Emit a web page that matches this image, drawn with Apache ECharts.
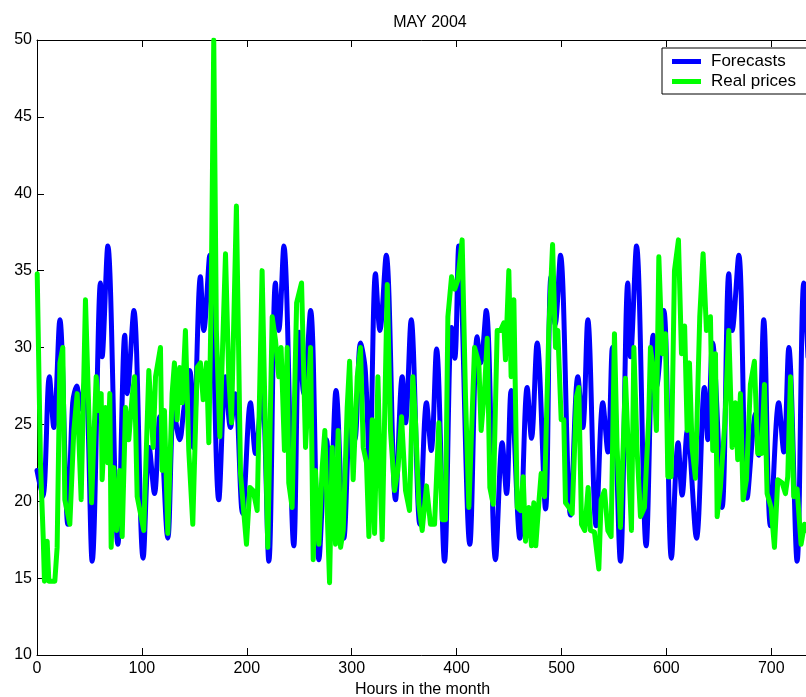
<!DOCTYPE html>
<html>
<head>
<meta charset="utf-8">
<script src="https://cdn.jsdelivr.net/npm/echarts@6/dist/echarts.min.js"></script>
<style>
html,body{margin:0;padding:0;background:#fff;}
#chart{width:806px;height:697px;}
</style>
</head>
<body>
<div id="chart"></div>
<script>
var chartTitle = "MAY 2004";
var xAxisTitle = "Hours in the month";
var seriesNames = ["Forecasts", "Real prices"];
var xTicks = [0, 100, 200, 300, 400, 500, 600, 700];
var yTicks = [10, 15, 20, 25, 30, 35, 40, 45, 50];

var forecastHours = [0,5.5,11.8,16,21.8,29.4,34,38,41,46,52.6,60.5,62.1,67.5,77.1,83.7,86,92.3,101.2,107,112,117,124.7,130.4,136,140,145.7,149,155.8,159,164.7,173.3,179.7,184.4,189,196,203.5,208.3,214.5,221,227.3,230.5,235.3,244.8,250,254.4,260.8,268.7,276,280,285,292.5,299,303,308.4,313,317,322.7,326.9,332.9,341.8,348.2,351.3,356.7,365,371.3,375.8,380.9,388.5,395.2,398.3,402.1,412.6,419.6,423,428.2,437.1,443.5,447.6,452,460.3,467.3,471.4,476.8,484.8,490,494,499,508.6,515.6,520.3,525.1,533,539.4,544.2,548.5,556.2,563.2,565.8,571.5,580.7,587.4,590.5,597.5,604.8,611.2,615,620,628.7,636.3,639.5,644,653.1,659.5,662.7,669,677,685,688,692.8,699.2,707.1,711.9,716.7,724.6,731,735];
var forecastPrices = [22.0,20.3,28.1,24.8,31.8,18.5,26.4,27.5,26,28.0,16.1,34.2,29.4,36.6,17.2,30.8,27.0,32.4,16.3,23.5,20.5,25.5,17.6,25.9,24.0,26,28.5,23.5,34.6,31.1,36.0,20.1,28.1,24.8,27,19.2,26.4,23.1,27.2,16.1,34.2,31.1,36.6,17.1,31,27.0,32.4,16.2,24,21,27.2,17.6,26,24,30.3,28.5,22,34.8,31.1,36.0,20.1,28.1,25.1,31.8,18.5,26.4,23.3,29.9,16.1,31.3,29.3,36.6,17.2,30.7,29,32.4,16.2,23.8,20.5,27.2,17.6,27.4,24.1,30.3,19.5,34.6,31.5,36.0,19.1,28.1,24.8,31.8,18.4,26.4,23.2,30,16.1,34.2,29.4,36.6,17.1,30.8,27.4,32.4,16.3,23.8,20.4,24.6,17.6,27.4,24.0,30.3,19.6,34.8,31.1,36.0,20.2,25.7,23,31.8,18.4,26.4,23.2,30.0,16.1,34.2,29.4];

var realHours = [0.2,3.3,5.9,7.1,9.7,11.3,17.0,19.2,21.8,24.6,26.5,31.3,35.1,38.3,42.1,46.2,52,56.4,59,61.2,62.1,65.3,67.5,69.4,70.7,73.2,75.8,78.9,81.2,84.4,87.5,90.7,93,95.5,101.8,106.6,110.7,113,117.7,119.3,121.5,124.7,128.8,131,133.6,136.1,138.4,141.5,144.7,148.5,152.7,155.8,158.4,161.6,163.8,166,168.5,171,174.3,179.7,182.8,185.4,190.1,194,199.7,202.9,206,209.9,214.6,220,224.2,227.3,230.5,232.7,235.9,238.5,240,243.2,247.5,252.2,256,260.8,263.3,265.5,268.7,271.9,274.4,276.7,278.9,281.4,284.6,287.1,289.4,291.9,295.7,298,301.4,305.3,308.4,311,314.1,316.4,319.6,321.8,325,327.5,329.1,333.9,337,340.8,344,347.5,351.3,355.1,358.3,360.9,364,367.2,371.3,375.1,379,383.1,386.3,389.4,391.7,395.2,398.3,401.2,405.3,408.5,411.7,417.1,421.2,423.4,426.6,429.2,431.7,434.9,438.7,441.9,445,446.6,449.8,452,454.6,457.8,460.9,463.5,465.7,468.9,471.4,473.6,475.5,478.4,480.6,483.8,487.9,491.5,494.3,496.5,499.7,502.2,503.8,507,510.2,514.3,516.5,519.1,522.2,525.4,527.6,531.4,535.6,537.8,541,544.2,547.3,550.5,553,556.2,561,564.2,566.7,569,572.1,575.3,579.1,583.2,584.8,588,590.5,592.8,596,599.1,601.4,604.5,607.7,611.5,614.4,617.4,619.8,622,624.5,627.7,631.8,635,638.2,642,644.2,646.8,648.4,651.5,655.7,659.5,662.7,665.8,668,670.6,673.1,676.3,680.1,683.9,687.1,690.6,693.5,696,699.8,703,706.2,710.3,713.5,715.7,718.3,721.4,724.6,728.4,731.6,735];
var realPrices = [34.8,22.5,17.7,14.8,17.4,14.8,14.8,17.0,29.0,30.0,20.1,18.5,24.6,27.0,20.1,33.1,19.9,28.1,25.9,27.0,21.4,26.1,22.5,27.0,17.0,22.2,18.1,22.0,17.7,26.1,24.0,26.8,28.1,20.3,18.1,28.5,23.5,28.1,30.0,22.0,25.9,17.9,27.0,29.0,25.3,28.7,26.4,31.1,23.3,18.5,28.7,29.0,26.6,29.0,23.8,32.9,50,31.1,24.2,36.1,28.1,25.1,39.2,21.8,17.2,20.9,20.7,19.4,35.0,17.0,32.0,30.5,28.1,30.0,23.3,30.0,21.2,19.6,32.9,34.2,23.5,30.0,16.2,22.0,17.2,22.2,24.6,19.2,14.7,23.5,17.2,24.6,17.0,18.1,26.1,29.1,21.4,28.1,30.0,23.5,22.5,17.7,25.3,17.9,28.1,20.9,17.5,34.1,24.6,20.7,22.0,25.5,20.7,19.4,28.1,25.1,19.8,18.1,21.0,18.5,18.5,25.1,18.8,18.8,32.0,34.6,33.8,34.4,37.0,26.8,19.6,30.0,29.0,24.6,27.2,30.6,20.9,19.8,31.1,31.1,31.6,29.2,35.0,28.1,33.1,19.6,19.4,21.6,17.4,19.6,17.1,19.9,17.1,19.9,21.8,20.3,31.1,36.7,30.0,31.1,25.3,25.3,19.9,19.6,19.2,26.8,27.4,18.5,18.1,20.9,18.1,18.0,15.6,20.1,20.7,18.1,17.7,30.9,23.5,18.3,28.0,22.5,18.1,30.0,23.3,19.0,19.6,25.5,30.0,28.3,24.6,35.9,29.6,30.9,21.6,21.6,35.0,37.0,29.6,31.4,24.6,29.0,23.5,21.5,32.0,36.1,31.1,32.0,23.3,29.6,19.0,20.9,25.1,31.1,23.5,26.4,22.7,27.0,20.1,21.4,27.6,29.1,23.1,23.1,27.6,20.5,19.6,17.0,21.4,21.2,20.5,21.6,28.1,20.3,20.8,17.2,18.5,18.0];

function pairs(xs, ys) {
  var out = [];
  for (var i = 0; i < xs.length; i++) out.push([xs[i], ys[i]]);
  return out;
}

var FONT = "'Liberation Sans', Arial, Helvetica, sans-serif";
var chart = echarts.init(document.getElementById('chart'), null, {renderer: 'canvas'});
chart.setOption({
  animation: false,
  backgroundColor: '#fff',
  title: {
    text: chartTitle,
    left: 425, top: 10, textAlign: 'center',
    textStyle: {fontFamily: FONT, fontSize: 16, fontWeight: 'normal', color: '#000'}
  },
  legend: {
    data: seriesNames,
    orient: 'vertical',
    left: 662, top: 48,
    padding: [5, 30, 4, 10],
    itemGap: 3,
    itemWidth: 29, itemHeight: 5,
    icon: 'rect',
    backgroundColor: '#fff',
    borderColor: '#000', borderWidth: 1, borderRadius: 0,
    textStyle: {fontFamily: FONT, fontSize: 17, color: '#000', lineHeight: 16, padding: [0, 0, 0, 5]}
  },
  grid: {left: 37, right: -2, top: 40, bottom: 42, containLabel: false, outerBoundsMode: 'none'},
  xAxis: [{
    type: 'value', min: 0, max: 735, interval: 100,
    name: xAxisTitle, nameLocation: 'middle', nameGap: 26,
    nameTextStyle: {fontFamily: FONT, fontSize: 16, color: '#000'},
    axisLine: {show: true, lineStyle: {color: '#000', width: 1}},
    axisTick: {show: true, inside: true, length: 7, lineStyle: {color: '#000'}, customValues: xTicks},
    axisLabel: {margin: 6, fontFamily: FONT, fontSize: 16, color: '#000', customValues: xTicks},
    splitLine: {show: false}
  }, {
    type: 'value', min: 0, max: 735, interval: 100, position: 'top',
    axisLine: {show: true, lineStyle: {color: '#000', width: 1}},
    axisTick: {show: true, inside: true, length: 7, lineStyle: {color: '#000'}, customValues: xTicks},
    axisLabel: {show: false},
    splitLine: {show: false}
  }],
  yAxis: {
    type: 'value', min: yTicks[0], max: yTicks[yTicks.length - 1], interval: 5,
    axisLine: {show: true, lineStyle: {color: '#000', width: 1}},
    axisTick: {show: true, inside: true, length: 7, lineStyle: {color: '#000'}},
    axisLabel: {margin: 5, fontFamily: FONT, fontSize: 16, color: '#000'},
    splitLine: {show: false}
  },
  series: [{
    name: seriesNames[0],
    type: 'line',
    data: pairs(forecastHours, forecastPrices),
    showSymbol: false,
    smooth: 0.35,
    color: '#0000ff',
    lineStyle: {color: '#0000ff', width: 5, cap: 'round', join: 'round'},
    z: 2
  }, {
    name: seriesNames[1],
    type: 'line',
    data: pairs(realHours, realPrices),
    showSymbol: false,
    smooth: false,
    color: '#00ff00',
    lineStyle: {color: '#00ff00', width: 5, cap: 'round', join: 'round'},
    z: 3
  }]
});
</script>
</body>
</html>
